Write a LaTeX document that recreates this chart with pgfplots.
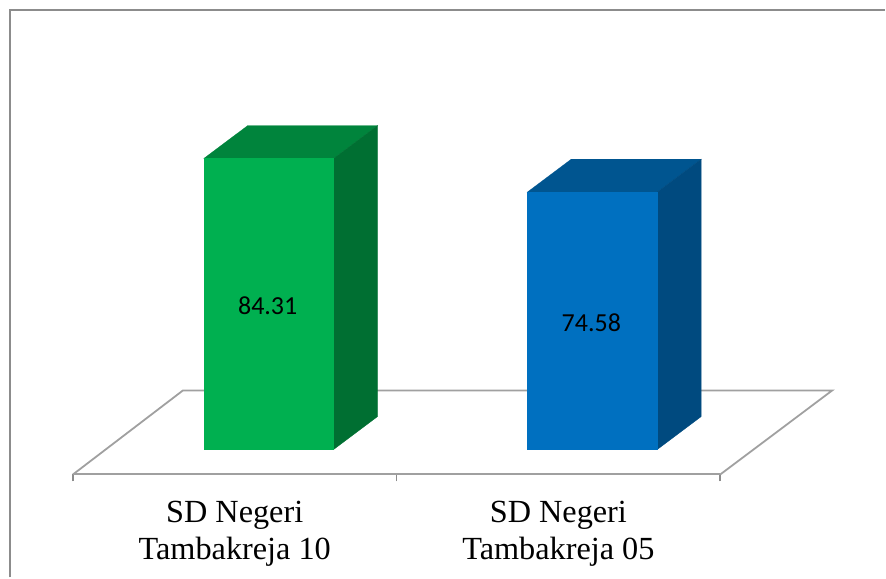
\documentclass[border=0pt]{standalone}
\usepackage{fontspec}
\setmainfont{Liberation Serif}
\newfontfamily\valuefont{Carlito}
\usepackage{pgfplots}
\pgfplotsset{compat=1.18}
\definecolor{frameline}{HTML}{8C8C8C}
\definecolor{floorline}{HTML}{A0A0A0}
\definecolor{greenfront}{HTML}{00B050}
\definecolor{greentop}{HTML}{00843C}
\definecolor{greenside}{HTML}{006F32}
\definecolor{bluefront}{HTML}{0070C0}
\definecolor{bluetop}{HTML}{005590}
\definecolor{blueside}{HTML}{004A7F}
\begin{document}
\begin{tikzpicture}
\begin{axis}[
  scale only axis,
  width=648bp, height=465bp,
  xmin=73, xmax=721,
  ymin=-7.236, ymax=127.35,
  clip=false,
  axis x line*=bottom,
  axis y line=none,
  axis line style={floorline, line width=2bp},
  xtick={235,559},
  xticklabels={{SD Negeri\\Tambakreja 10},{SD Negeri\\Tambakreja 05}},
  minor xtick={73,397,721},
  major tick length=0pt,
  minor tick length=7bp,
  tick align=outside,
  minor x tick style={frameline, line width=1.4bp},
  xticklabel style={align=center, font=\fontsize{32.3bp}{37bp}\selectfont, yshift=-26.5bp, inner sep=0pt},
]
% page area
\addplot[draw=none, forget plot] coordinates {(0,-37.05) (886,-37.05) (886,130.25) (0,130.25)};
% outer frame, open on the right and at the bottom
\addplot[frameline, line width=2bp, forget plot] coordinates {(10.5,-37.05) (10.5,127.35) (886,127.35)};
% floor: back edge and slanted sides
\addplot[floorline, line width=1.8bp, forget plot] coordinates {(73,-7.236) (183,17.08) (833,17.08) (721,-7.236)};

% first bar, 84.31
\addplot[greentop, line width=0.3bp, fill=greentop, forget plot] coordinates {(204,84.31) (248,93.86) (378,93.86) (334,84.31)} -- cycle;
\addplot[greenside, line width=0.3bp, fill=greenside, forget plot] coordinates {(334,0) (378,9.55) (378,93.86) (334,84.31)} -- cycle;
\addplot[ybar, bar width=130bp, bar shift=0pt, draw=greenfront, line width=0.3bp, fill=greenfront, forget plot] coordinates {(269,84.31)};
% second bar, 74.58
\addplot[bluetop, line width=0.3bp, fill=bluetop, forget plot] coordinates {(528,74.58) (572,84.13) (702,84.13) (658,74.58)} -- cycle;
\addplot[blueside, line width=0.3bp, fill=blueside, forget plot] coordinates {(658,0) (702,9.55) (702,84.13) (658,74.58)} -- cycle;
\addplot[ybar, bar width=130bp, bar shift=0pt, draw=bluefront, line width=0.3bp, fill=bluefront, forget plot] coordinates {(593,74.58)};

\node[yshift=-1.5bp, font=\fontsize{26bp}{30bp}\selectfont\valuefont] at (axis cs:268,42.155) {84.31};
\node[yshift=-1.5bp, font=\fontsize{26bp}{30bp}\selectfont\valuefont] at (axis cs:592,37.29) {74.58};
\end{axis}
\end{tikzpicture}
\end{document}
